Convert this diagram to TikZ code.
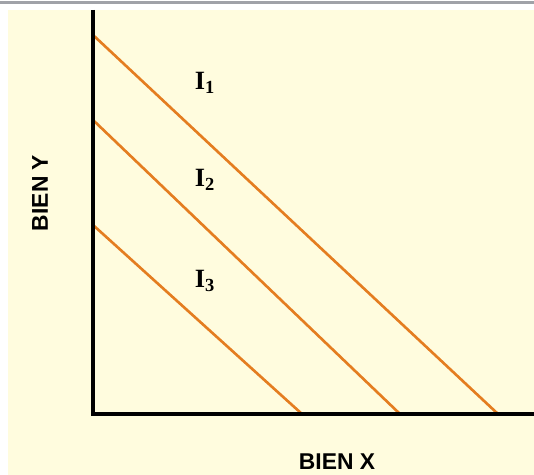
\documentclass[tikz,border=0pt]{standalone}
\usepackage{fontspec}
\setmainfont{Liberation Serif}
\newfontfamily\axisfont{Liberation Sans}
\usepackage{tikz}
\usepackage{xcolor}

\definecolor{cream}{RGB}{255,252,222}
\definecolor{budget}{RGB}{228,125,32}
\definecolor{rulegray}{RGB}{160,162,168}

\tikzset{
	axis/.style={line width=2pt,black},
	isoline/.style={line width=1.5pt,budget},
	curvelabel/.style={font=\fontsize{15}{15}\selectfont\bfseries},
	axislabel/.style={font=\axisfont\fontsize{13}{13}\selectfont\bfseries}
}

\begin{document}
\begin{tikzpicture}[x=0.02cm,y=-0.02cm]
			\useasboundingbox (0,0) rectangle (534,475);
			\fill[white] (0,0) rectangle (534,475);
			\fill[cream] (8,10) rectangle (534,475);
			\draw[rulegray,line width=1.2pt] (0,2.5) -- (534,2.5);
			% axes
			\coordinate (O) at (93,414);
			\coordinate (ytop) at (93,10);
			\coordinate (xend) at (534,414);
			% lines, start on the y axis and end on the x axis
			\foreach \n/\ya/\xb in {1/35/498,2/120/400,3/225/302}{
				\coordinate (a\n) at (93,\ya);
				\coordinate (b\n) at (\xb,414);
				\draw[isoline] (a\n) -- (b\n);
			}
			\draw[axis] (ytop) -- (O) -- (xend);
			\node[curvelabel] (l1) at (205,83) {I\textsubscript{1}};
			\node[curvelabel] (l2) at (205,180) {I\textsubscript{2}};
			\node[curvelabel] (l3) at (205,281) {I\textsubscript{3}};
			\node[axislabel] (bx) at (337,462) {BIEN X};
			\node[axislabel,rotate=90] (by) at (40,193) {BIEN Y};
		\end{tikzpicture}
\end{document}
